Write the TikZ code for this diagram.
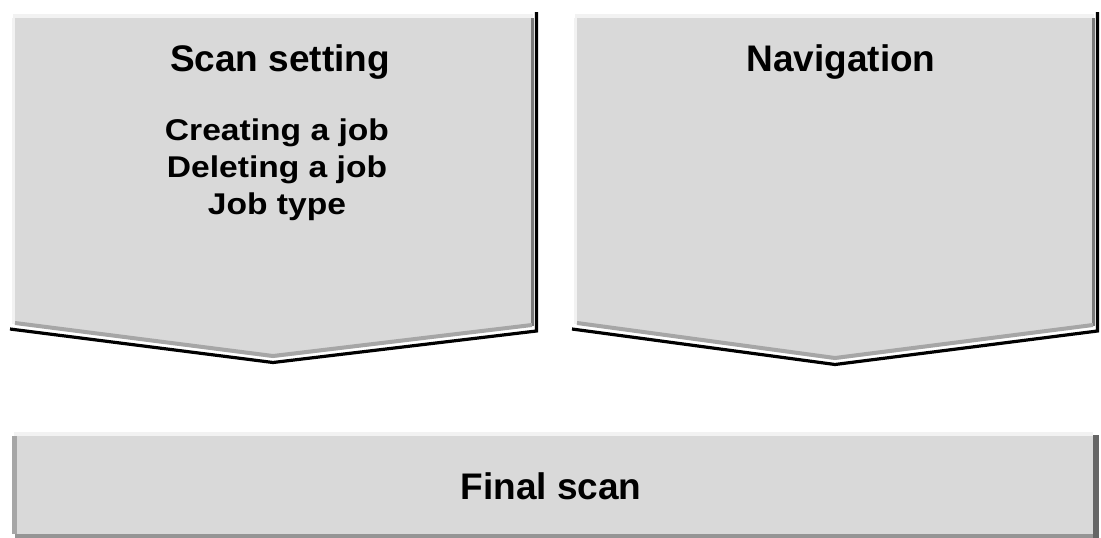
\documentclass[tikz,border=0pt]{standalone}
\usepackage{fontspec}
\setmainfont{Liberation Sans}
\definecolor{boxfill}{HTML}{D9D9D9}
\definecolor{hilite}{HTML}{F2F2F2}
\definecolor{bevel}{HTML}{A6A6A6}
\definecolor{darkbevel}{HTML}{7A7A7A}
\tikzset{
  title/.style={anchor=base, inner sep=0pt, font=\bfseries\fontsize{37}{40}\selectfont},
  item/.style={anchor=base, inner sep=0pt, font=\bfseries\fontsize{30}{34}\selectfont},
  shapefill/.style={fill=boxfill, draw=none},
  hi/.style={draw=hilite, line width=4pt},
  bev/.style={draw=bevel, line width=4pt},
  dbev/.style={draw=darkbevel, line width=3pt},
  edge/.style={draw=black, line width=3.2pt, line join=miter}
}
\begin{document}
\begin{tikzpicture}[x=1pt,y=-1pt]
\useasboundingbox[fill=white] (0,0) rectangle (1101,538);
% ---------- left chevron ----------
\path[hi] (13,16) -- (533,16);
\path[hi] (14,18) -- (14,324);
\path[shapefill] (15,18) -- (533,18) -- (533,326) -- (273,358) -- (15,324) -- cycle;
\path[dbev] (532,18) -- (532,326);
\path[bev] (15,323) -- (273,356) -- (532,325);
\path[edge] (10,329) -- (273,362.5) -- (536.5,331) -- (536.5,12);
% ---------- right chevron ----------
\path[hi] (575,16) -- (1094,16);
\path[hi] (576,18) -- (576,324);
\path[shapefill] (577,18) -- (1094,18) -- (1094,326) -- (835,360) -- (577,324) -- cycle;
\path[dbev] (1093,18) -- (1093,326);
\path[bev] (577,323) -- (835,358) -- (1093,325);
\path[edge] (572,329) -- (835,364.5) -- (1097.5,331) -- (1097.5,12);
% ---------- bottom bar ----------
\path[hi] (14,433.5) -- (1093,433.5);
\path[shapefill] (15,436) rectangle (1093,534);
\path[draw=bevel, line width=5pt] (14,436) -- (14,534);
\path[draw=darkbevel!80, line width=4pt] (15,536) -- (1093,536);
\path[draw=black!60, line width=6pt] (1096,435) -- (1096,538);
% ---------- texts ----------
\node[title] (scan) at (280,71) {Scan setting};
\node[item] (create) at (277,140) {\scalebox{1.12}[1]{Creating a job}};
\node[item] (delete) at (277,177) {\scalebox{1.12}[1]{Deleting a job}};
\node[item] (jobtype) at (277,214) {\scalebox{1.12}[1]{Job type}};
\node[title] (nav) at (841,71) {Navigation};
\node[title] (final) at (551,499) {Final scan};
\end{tikzpicture}
\end{document}
